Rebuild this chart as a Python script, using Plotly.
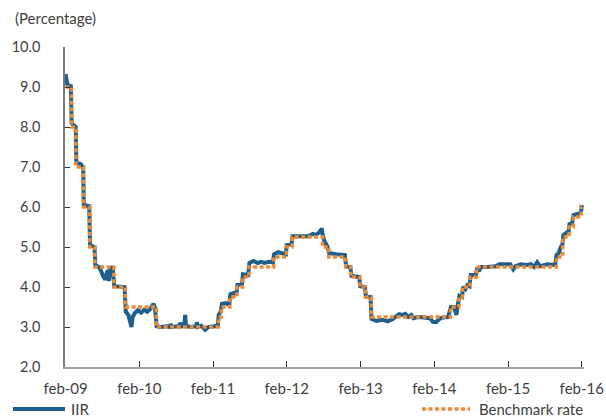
import plotly.graph_objects as go

# ---- data -------------------------------------------------------------
bench_dates = ["2009-02-01", "2009-03-02", "2009-03-24", "2009-04-30", "2009-06-01",
               "2009-06-26", "2009-09-28", "2009-11-23", "2010-04-26", "2011-02-28",
               "2011-03-14", "2011-04-25", "2011-05-30", "2011-06-27", "2011-07-29",
               "2011-11-28", "2012-01-30", "2012-02-27", "2012-07-27", "2012-08-27",
               "2012-11-19", "2012-12-14", "2013-01-28", "2013-02-25", "2013-03-25",
               "2014-04-22", "2014-06-03", "2014-06-20", "2014-07-28", "2014-08-29",
               "2015-09-28", "2015-10-30", "2015-11-30", "2015-12-21", "2016-01-29",
               "2016-02-01"]
bench_vals = [9.0, 8.0, 7.0, 6.0, 5.0, 4.5, 4.0, 3.5, 3.0, 3.25,
              3.5, 3.75, 4.0, 4.25, 4.5, 4.75, 5.0, 5.25, 5.0, 4.75,
              4.5, 4.25, 4.0, 3.75, 3.25, 3.5, 3.75, 4.0, 4.25, 4.5,
              4.75, 5.25, 5.5, 5.75, 6.0, 6.0]

iir_dates = ["2009-02-01", "2009-02-05", "2009-02-10", "2009-02-27", "2009-03-03",
             "2009-03-12", "2009-03-23", "2009-03-26", "2009-04-15", "2009-04-29",
             "2009-05-02", "2009-05-29", "2009-06-02", "2009-06-24", "2009-06-28",
             "2009-07-15", "2009-07-25", "2009-08-05", "2009-08-17", "2009-08-24",
             "2009-08-29", "2009-09-03", "2009-09-11", "2009-09-22", "2009-09-30",
             "2009-11-20", "2009-11-26", "2009-12-09", "2009-12-24", "2009-12-30",
             "2010-01-10", "2010-01-25", "2010-02-10", "2010-02-25", "2010-03-12",
             "2010-03-28", "2010-04-12", "2010-04-19", "2010-04-28", "2010-05-20",
             "2010-06-15", "2010-07-03", "2010-07-06", "2010-07-10", "2010-08-15",
             "2010-08-24", "2010-08-30", "2010-09-12", "2010-09-16", "2010-09-20",
             "2010-10-20", "2010-11-10", "2010-11-13", "2010-11-17", "2010-12-05",
             "2010-12-24", "2011-01-10", "2011-02-10", "2011-02-25", "2011-03-01",
             "2011-03-12", "2011-03-17", "2011-04-05", "2011-04-22", "2011-04-28",
             "2011-05-15", "2011-05-28", "2011-06-01", "2011-06-25", "2011-06-29",
             "2011-07-25", "2011-07-31", "2011-08-20", "2011-09-10", "2011-09-25",
             "2011-10-15", "2011-11-05", "2011-11-25", "2011-11-30", "2011-12-20",
             "2012-01-10", "2012-01-28", "2012-02-01", "2012-02-25", "2012-02-29",
             "2012-04-01", "2012-05-15", "2012-06-10", "2012-06-25", "2012-07-10",
             "2012-07-24", "2012-07-28", "2012-08-05", "2012-08-20", "2012-08-29",
             "2012-10-01", "2012-11-15", "2012-11-21", "2012-12-12", "2012-12-17",
             "2013-01-25", "2013-01-30", "2013-02-22", "2013-02-27", "2013-03-22",
             "2013-03-27", "2013-04-20", "2013-05-20", "2013-06-15", "2013-07-10",
             "2013-07-25", "2013-08-10", "2013-08-25", "2013-09-10", "2013-09-25",
             "2013-10-10", "2013-10-20", "2013-11-10", "2013-12-10", "2014-01-10",
             "2014-01-25", "2014-02-10", "2014-02-25", "2014-03-15", "2014-04-10",
             "2014-04-24", "2014-05-10", "2014-05-21", "2014-05-28", "2014-06-05",
             "2014-06-18", "2014-06-23", "2014-07-05", "2014-07-15", "2014-07-25",
             "2014-07-31", "2014-08-25", "2014-09-02", "2014-09-10", "2014-09-20",
             "2014-10-20", "2014-12-01", "2014-12-20", "2015-01-20", "2015-02-12",
             "2015-02-27", "2015-03-10", "2015-04-05", "2015-05-01", "2015-05-25",
             "2015-06-10", "2015-06-25", "2015-07-10", "2015-08-15", "2015-09-09",
             "2015-09-22", "2015-09-29", "2015-10-10", "2015-10-20", "2015-10-28",
             "2015-11-02", "2015-11-15", "2015-11-28", "2015-12-02", "2015-12-15",
             "2015-12-22", "2016-01-15", "2016-01-28", "2016-02-01"]
iir_vals = [9.32, 9.15, 9.05, 9.02, 8.10,
            8.05, 8.00, 7.10, 7.08, 7.00,
            6.05, 6.02, 5.05, 5.00, 4.55,
            4.50, 4.42, 4.28, 4.18, 4.35,
            4.42, 4.15, 4.45, 4.50, 4.02,
            4.00, 3.38, 3.30, 3.00, 3.25,
            3.35, 3.42, 3.36, 3.43, 3.38,
            3.45, 3.58, 3.50, 3.02, 3.00,
            3.02, 3.00, 3.08, 3.00, 3.02,
            3.10, 3.02, 3.05, 3.30, 3.02,
            3.00, 3.02, 3.12, 3.00, 3.03,
            2.93, 3.00, 3.02, 3.05, 3.30,
            3.40, 3.58, 3.60, 3.55, 3.82,
            3.85, 3.80, 4.05, 4.08, 4.32,
            4.30, 4.60, 4.65, 4.60, 4.63,
            4.60, 4.63, 4.62, 4.82, 4.87,
            4.83, 4.82, 5.05, 5.08, 5.27,
            5.26, 5.27, 5.33, 5.30, 5.36,
            5.46, 5.30, 5.15, 5.02, 4.85,
            4.82, 4.80, 4.52, 4.50, 4.28,
            4.25, 4.02, 4.00, 3.76, 3.75,
            3.20, 3.15, 3.18, 3.14, 3.20,
            3.25, 3.32, 3.30, 3.33, 3.25,
            3.30, 3.22, 3.25, 3.24, 3.22,
            3.13, 3.12, 3.20, 3.24, 3.25,
            3.50, 3.50, 3.30, 3.55, 3.78,
            3.75, 4.00, 3.95, 4.05, 4.02,
            4.30, 4.30, 4.48, 4.40, 4.50,
            4.50, 4.52, 4.57, 4.56, 4.57,
            4.44, 4.52, 4.57, 4.55, 4.57,
            4.50, 4.62, 4.52, 4.57, 4.57,
            4.55, 4.80, 4.85, 5.00, 5.05,
            5.30, 5.35, 5.40, 5.57, 5.60,
            5.80, 5.82, 5.85, 6.05]

tick_dates = ["2009-02-01", "2010-02-01", "2011-02-01", "2012-02-01",
              "2013-02-01", "2014-02-01", "2015-02-01", "2016-02-01"]
tick_labels = ["feb-09", "feb-10", "feb-11", "feb-12",
               "feb-13", "feb-14", "feb-15", "feb-16"]
y_ticks = [2.0, 3.0, 4.0, 5.0, 6.0, 7.0, 8.0, 9.0, 10.0]

series_names = ["IIR", "Benchmark rate"]

# ---- style ------------------------------------------------------------
BLUE = "#1d5f8f"
ORANGE = "#ef8a33"
TXT = "#404040"
FONT = "Lato"

fig = go.Figure()
fig.add_trace(go.Scatter(x=iir_dates, y=iir_vals, mode="lines", name=series_names[0],
                         line=dict(color=BLUE, width=4), showlegend=False))
fig.add_trace(go.Scatter(x=bench_dates, y=bench_vals, mode="lines", name=series_names[1],
                         line=dict(color=ORANGE, width=3.5, dash="4px,2.5px", shape="hv"),
                         showlegend=False))

W, H = 606, 419
PL, PR, PT, PB = 65, 584, 47, 367          # plot-area edges in page pixels
pw, ph = PR - PL, PB - PT

def px_x(p):
    return (p - PL) / pw

def px_y(p):
    return (PB - p) / ph

fig.update_layout(
    width=W, height=H, autosize=False,
    margin=dict(l=PL, r=W - PR, t=PT, b=H - PB, autoexpand=False),
    paper_bgcolor="white", plot_bgcolor="white",
    font=dict(family=FONT, size=15, color=TXT),
    xaxis=dict(type="date", range=["2009-01-29", "2016-02-12"],
               tickvals=tick_dates, ticktext=tick_labels,
               showgrid=False, zeroline=False, automargin=False,
               showline=True, linecolor="#a0a0a0", linewidth=2,
               ticks="inside", ticklen=6, tickcolor="#333333", tickwidth=1,
               ticklabelstandoff=7,
               tickfont=dict(family=FONT, size=15, color=TXT)),
    yaxis=dict(range=[2.0, 10.0], tickvals=y_ticks, tickformat=".1f",
               showgrid=False, zeroline=False, automargin=False,
               showline=True, linecolor="#7a7a7a", linewidth=1.5,
               ticks="inside", ticklen=5, tickcolor="#333333", tickwidth=1,
               ticklabelstandoff=20,
               tickfont=dict(family=FONT, size=14.5, color=TXT)),
)

# header annotation
fig.add_annotation(text="(Percentage)", xref="paper", yref="paper",
                   x=px_x(13), y=px_y(18), xanchor="left", yanchor="middle",
                   showarrow=False, font=dict(family=FONT, size=15, color=TXT))

# manual legend
ly = px_y(409)
fig.add_shape(type="line", xref="paper", yref="paper",
              x0=px_x(13), x1=px_x(65), y0=ly, y1=ly,
              line=dict(color=BLUE, width=4))
fig.add_annotation(text=series_names[0], xref="paper", yref="paper",
                   x=px_x(69), y=ly, xanchor="left", yanchor="middle",
                   showarrow=False, font=dict(family=FONT, size=15, color=TXT))
fig.add_shape(type="line", xref="paper", yref="paper",
              x0=px_x(422), x1=px_x(470), y0=ly, y1=ly,
              line=dict(color=ORANGE, width=3.5, dash="4px,2.5px"))
fig.add_annotation(text=series_names[1], xref="paper", yref="paper",
                   x=px_x(477), y=ly, xanchor="left", yanchor="middle",
                   showarrow=False, font=dict(family=FONT, size=15, color=TXT))

# remove the page's default 8px body margin so the figure fills the window exactly
fig.write_html("out.html",
               config={"displayModeBar": False},
               post_script="document.body.style.margin='0';"
                           "document.body.style.overflow='hidden';")
